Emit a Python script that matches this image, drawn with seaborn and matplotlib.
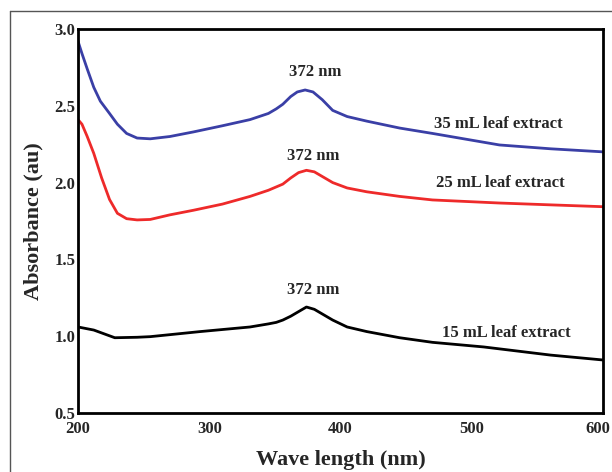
import pandas as pd
import matplotlib.pyplot as plt
import seaborn as sns
import matplotlib.transforms as mtransforms
from matplotlib.lines import Line2D

# UV-vis spectra
wl_35 = [200, 203, 207, 212, 217, 224, 230, 237, 245, 255, 270, 288, 310, 331, 345, 351, 356, 362, 367, 373, 379, 386, 394, 405, 420, 445, 470, 521, 560, 600]
abs_35 = [2.92, 2.84, 2.74, 2.62, 2.53, 2.45, 2.38, 2.32, 2.29, 2.285, 2.30, 2.33, 2.37, 2.41, 2.45, 2.48, 2.51, 2.56, 2.59, 2.603, 2.59, 2.54, 2.47, 2.43, 2.40, 2.355, 2.32, 2.245, 2.22, 2.20]

wl_25 = [200, 203, 207, 212, 218, 224, 230, 237, 245, 255, 270, 288, 310, 331, 345, 356, 362, 368, 374, 380, 387, 394, 405, 420, 445, 470, 521, 560, 600]
abs_25 = [2.41, 2.38, 2.30, 2.19, 2.03, 1.89, 1.80, 1.765, 1.757, 1.76, 1.79, 1.82, 1.86, 1.91, 1.95, 1.99, 2.03, 2.065, 2.08, 2.07, 2.035, 2.00, 1.965, 1.94, 1.91, 1.887, 1.867, 1.855, 1.843]

wl_15 = [200, 212, 228, 245, 255, 270, 293, 331, 345, 351, 356, 362, 368, 374, 380, 386, 394, 405, 420, 445, 470, 509, 560, 600]
abs_15 = [1.06, 1.04, 0.99, 0.993, 0.997, 1.01, 1.03, 1.06, 1.08, 1.09, 1.105, 1.13, 1.16, 1.19, 1.175, 1.145, 1.105, 1.06, 1.03, 0.99, 0.96, 0.93, 0.877, 0.845]

series_labels = ["35 mL leaf extract", "25 mL leaf extract", "15 mL leaf extract"]
peak_label = "372 nm"

sns.set_style("white")
plt.rcParams['font.family'] = ['Liberation Serif', 'DejaVu Serif']
plt.rcParams['font.weight'] = 'bold'

fig = plt.figure(figsize=(6.12, 4.72), dpi=100)
ax = fig.add_axes([0.1275, 0.125, 0.858, 0.8136])

sns.lineplot(x=wl_35, y=abs_35, color="#3a3fa6", lw=2, ax=ax)
sns.lineplot(x=wl_25, y=abs_25, color="#ee2a2a", lw=2, ax=ax)
sns.lineplot(x=wl_15, y=abs_15, color="black", lw=2, ax=ax)

ax.set_xlim(200, 600)
ax.set_ylim(0.5, 3.0)
ax.set_xticks([200, 300, 400, 500, 600])
ax.set_yticks([0.5, 1.0, 1.5, 2.0, 2.5, 3.0])
ax.set_yticklabels(["0.5", "1.0", "1.5", "2.0", "2.5", "3.0"])
ax.tick_params(length=0, labelsize=12)
ax.tick_params(axis='x', pad=6)
ax.tick_params(axis='y', pad=2)
for lab in ax.get_xticklabels() + ax.get_yticklabels():
    lab.set_fontweight('bold')
# keep the last x label inside the picture, flush with the right edge
last = ax.get_xticklabels()[-1]
last.set_horizontalalignment('right')
last.set_transform(last.get_transform() + mtransforms.ScaledTranslation(0.075, 0, fig.dpi_scale_trans))
for s in ax.spines.values():
    s.set_visible(True)
    s.set_color("black")
    s.set_linewidth(2)

ax.set_xlabel("Wave length (nm)", fontsize=16, fontweight='bold', labelpad=9)
ax.set_ylabel("Absorbance (au)", fontsize=16, fontweight='bold', labelpad=8)

# annotations
ax.text(381, 2.72, peak_label, ha='center', va='center', fontsize=12, fontweight='bold')
ax.text(379, 2.17, peak_label, ha='center', va='center', fontsize=12, fontweight='bold')
ax.text(379, 1.30, peak_label, ha='center', va='center', fontsize=12, fontweight='bold')
ax.text(520, 2.38, series_labels[0], ha='center', va='center', fontsize=12, fontweight='bold')
ax.text(522, 2.00, series_labels[1], ha='center', va='center', fontsize=12, fontweight='bold')
ax.text(526, 1.02, series_labels[2], ha='center', va='center', fontsize=12, fontweight='bold')

# outer frame lines (left and top)
fig.add_artist(Line2D([0.0165, 0.0165], [0, 0.977], color="#555555", lw=1, transform=fig.transFigure))
fig.add_artist(Line2D([0.0165, 1.0], [0.977, 0.977], color="#555555", lw=1, transform=fig.transFigure))

plt.savefig("out.png", dpi=100)
plt.close()
